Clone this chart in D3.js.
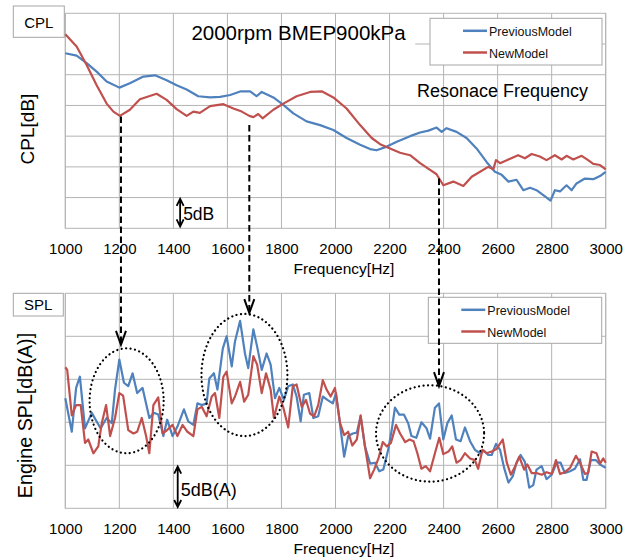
<!DOCTYPE html>
<html>
<head>
<meta charset="utf-8">
<script src="https://cdn.jsdelivr.net/npm/d3@7"></script>
<style>
    body { margin: 0; background: #fff; }
    svg { display: block; font-family: "Liberation Sans", Arial, sans-serif; }
</style>
</head>
<body>
<div id="chart"></div>
<script>
// ---- data ----
const freqTicks = [1000, 1200, 1400, 1600, 1800, 2000, 2200, 2400, 2600, 2800, 3000];
const seriesNames = ["PreviousModel", "NewModel"];
const seriesColors = ["#4F81BD", "#C0504D"];

// CPL [dB], relative (5 dB per gridline)
const cplPrevious = [
    [1000, 28.5], [1042, 28.1], [1079, 26.9], [1116, 25.5], [1153, 23.9], [1200, 22.9], [1239, 23.6],
    [1289, 24.7], [1332, 24.9], [1375, 24.1], [1412, 23.3], [1449, 22.6], [1492, 21.5], [1536, 21.3],
    [1573, 21.4], [1610, 21.7], [1650, 22.3], [1684, 22.3], [1708, 21.5], [1727, 22.2], [1770, 21.3],
    [1807, 20.1], [1844, 18.7], [1893, 17.4], [1943, 16.8], [1992, 16.0], [2041, 14.7], [2091, 13.6],
    [2128, 12.9], [2152, 12.7], [2190, 13.3], [2227, 14.1], [2276, 15.0], [2313, 15.6], [2344, 15.9],
    [2374, 16.4], [2393, 15.7], [2411, 16.3], [2448, 15.7], [2485, 14.7], [2522, 13.0], [2559, 10.8],
    [2590, 9.2], [2615, 8.7], [2640, 7.6], [2670, 7.9], [2695, 6.2], [2720, 6.6], [2744, 6.2],
    [2769, 5.4], [2796, 4.5], [2812, 6.2], [2831, 6.0], [2855, 7.0], [2874, 6.2], [2892, 7.3],
    [2923, 8.1], [2954, 8.0], [2979, 8.5], [3000, 9.2]
];
const cplNew = [
    [1000, 31.6], [1042, 29.6], [1079, 26.6], [1116, 23.3], [1153, 20.3], [1178, 19.0], [1202, 18.3],
    [1239, 19.3], [1276, 21.0], [1338, 21.9], [1375, 20.9], [1412, 19.4], [1449, 18.3], [1474, 19.0],
    [1498, 18.8], [1536, 19.9], [1585, 20.2], [1622, 19.5], [1653, 19.0], [1681, 18.3], [1696, 18.1],
    [1714, 18.6], [1730, 17.9], [1770, 19.3], [1807, 20.3], [1856, 21.5], [1906, 22.2], [1949, 22.3],
    [1992, 21.3], [2041, 19.5], [2091, 16.8], [2134, 14.7], [2165, 13.7], [2202, 13.0], [2239, 12.3],
    [2276, 11.9], [2313, 10.6], [2350, 9.5], [2374, 8.8], [2399, 7.0], [2436, 7.6], [2473, 6.9],
    [2504, 8.4], [2535, 9.2], [2565, 10.0], [2584, 9.6], [2594, 11.1], [2609, 10.6], [2640, 11.2],
    [2676, 11.9], [2701, 11.4], [2726, 12.1], [2756, 11.7], [2781, 11.1], [2812, 11.9], [2837, 11.2],
    [2855, 11.8], [2880, 11.2], [2911, 11.8], [2935, 11.1], [2954, 10.5], [2979, 10.3], [3000, 9.6]
];

// Engine SPL [dB(A)], relative (5 dB per gridline)
const splPrevious = [
    [1000, 12.8], [1024, 8.9], [1040, 14.0], [1054, 15.3], [1073, 9.3], [1098, 11.1], [1116, 10.1],
    [1131, 9.3], [1153, 10.5], [1172, 9.9], [1184, 13.8], [1200, 17.3], [1217, 14.6], [1233, 14.2],
    [1249, 15.7], [1266, 13.4], [1286, 14.0], [1311, 10.5], [1328, 11.1], [1344, 10.9], [1363, 8.4],
    [1377, 10.3], [1397, 8.4], [1415, 9.5], [1439, 11.5], [1455, 10.1], [1474, 9.7], [1489, 12.2],
    [1505, 12.0], [1523, 12.2], [1533, 15.1], [1550, 15.7], [1563, 13.8], [1583, 18.6], [1597, 20.0],
    [1616, 16.5], [1628, 19.4], [1647, 21.8], [1665, 18.0], [1677, 16.3], [1696, 20.8], [1710, 18.8],
    [1727, 16.1], [1745, 18.0], [1760, 16.7], [1776, 12.8], [1792, 14.0], [1809, 12.6], [1825, 14.2],
    [1842, 14.4], [1856, 13.0], [1871, 10.1], [1883, 13.2], [1903, 13.4], [1918, 10.5], [1936, 10.7],
    [1953, 13.0], [1970, 12.6], [1990, 12.2], [2002, 13.4], [2017, 9.7], [2032, 6.0], [2047, 8.4],
    [2064, 8.7], [2079, 8.8], [2093, 10.7], [2109, 7.2], [2128, 5.2], [2146, 5.3], [2162, 4.3],
    [2177, 4.5], [2195, 6.8], [2208, 9.1], [2220, 11.7], [2236, 10.9], [2253, 10.9], [2269, 9.9],
    [2281, 8.4], [2299, 8.2], [2318, 10.0], [2337, 9.3], [2350, 8.1], [2368, 11.7], [2383, 12.2],
    [2399, 8.0], [2414, 9.9], [2430, 10.8], [2446, 8.0], [2463, 7.8], [2479, 9.4], [2498, 7.8],
    [2516, 6.8], [2535, 6.4], [2550, 6.7], [2565, 6.2], [2578, 6.2], [2594, 7.5], [2609, 6.8],
    [2624, 4.7], [2640, 3.0], [2656, 3.7], [2670, 5.3], [2685, 6.2], [2701, 5.4], [2717, 2.4],
    [2732, 2.7], [2744, 4.5], [2763, 4.9], [2781, 3.4], [2800, 3.9], [2818, 5.3], [2833, 5.3],
    [2849, 4.1], [2868, 4.3], [2886, 4.6], [2905, 5.7], [2917, 3.3], [2929, 3.3], [2945, 5.6],
    [2964, 5.6], [2979, 5.1], [3000, 4.7]
];
const splNew = [
    [1000, 16.4], [1007, 16.1], [1024, 10.8], [1040, 12.0], [1057, 12.0], [1073, 7.6], [1085, 8.0],
    [1104, 6.4], [1122, 7.2], [1135, 9.9], [1151, 12.0], [1166, 8.4], [1184, 10.5], [1200, 13.4],
    [1214, 13.1], [1233, 9.1], [1252, 8.7], [1266, 8.9], [1283, 10.5], [1299, 8.4], [1311, 6.4],
    [1326, 12.0], [1344, 12.9], [1360, 8.7], [1377, 9.1], [1397, 9.7], [1415, 8.4], [1434, 9.7],
    [1452, 8.9], [1474, 8.4], [1489, 11.5], [1505, 11.8], [1523, 10.7], [1542, 13.0], [1554, 13.4],
    [1570, 10.5], [1585, 15.3], [1597, 15.9], [1616, 12.2], [1628, 13.0], [1647, 14.7], [1662, 12.4],
    [1677, 13.2], [1696, 17.7], [1710, 16.7], [1727, 13.4], [1743, 15.7], [1760, 13.8], [1772, 10.5],
    [1792, 13.0], [1807, 11.7], [1825, 9.4], [1842, 14.2], [1856, 14.4], [1875, 11.8], [1891, 12.6],
    [1906, 11.0], [1921, 10.7], [1936, 12.0], [1953, 14.9], [1967, 13.8], [1982, 13.0], [1998, 14.0],
    [2017, 9.9], [2032, 8.5], [2047, 8.9], [2062, 7.3], [2079, 8.0], [2093, 10.8], [2109, 7.2],
    [2128, 3.5], [2143, 4.5], [2159, 5.8], [2175, 7.7], [2190, 7.2], [2205, 7.6], [2224, 9.7],
    [2239, 8.7], [2258, 7.7], [2274, 8.0], [2289, 7.8], [2303, 6.4], [2318, 4.6], [2334, 4.9],
    [2350, 4.3], [2368, 6.4], [2384, 8.2], [2399, 6.3], [2418, 6.6], [2432, 7.2], [2448, 5.3],
    [2463, 5.6], [2479, 6.4], [2498, 5.8], [2516, 5.6], [2528, 4.6], [2544, 6.8], [2559, 6.4],
    [2578, 6.6], [2596, 6.9], [2619, 8.0], [2634, 5.3], [2649, 3.9], [2665, 4.9], [2680, 6.0],
    [2698, 4.5], [2710, 5.1], [2726, 4.1], [2744, 4.1], [2763, 3.9], [2781, 4.2], [2800, 4.0],
    [2816, 5.6], [2831, 4.0], [2849, 4.2], [2868, 4.7], [2890, 6.1], [2905, 5.3], [2923, 4.0],
    [2935, 4.1], [2948, 6.6], [2966, 6.4], [2979, 5.2], [2991, 5.8], [3000, 5.3]
];

// resonance arrows: from CPL dip (top) down to SPL peak region (bottom)
const resonances = [
    { freq: 1206, cpl: 18.2, spl: 19.0 },
    { freq: 1681, cpl: 16.8, spl: 22.7 },
    { freq: 2383, cpl: 8.1, spl: 14.2 }
];
// dotted ellipses on SPL chart (centre and radii in data units)
const ellipses = [
    { freq: 1227, spl: 12.5, rf: 137, rv: 6.1 },
    { freq: 1663, spl: 15.5, rf: 159, rv: 7.1 },
    { freq: 2350, spl: 8.7, rf: 200, rv: 5.6 }
];

// ---- layout ----
const width = 633, height = 558;
const gridColor = "#b4b4b4";

const xScale = d3.scaleLinear().domain([1000, 3000]).range([65.3, 605.7]);
const yCpl = d3.scaleLinear().domain([0, 35]).range([228.3, 13.3]);
const ySpl = d3.scaleLinear().domain([0, 25]).range([508.3, 293.3]);

const svg = d3.select("#chart")
    .append("svg")
    .attr("width", width)
    .attr("height", height)
    .attr("viewBox", `0 0 ${width} ${height}`);

const drawPanel = (yScale, gridValues, data, opts) => {
    const g = svg.append("g");
    const [x0, x1] = xScale.range();
    const [yb, yt] = yScale.range();

    // vertical grid
    g.selectAll(".vgrid")
        .data(freqTicks)
        .join("line")
        .attr("x1", d => xScale(d)).attr("x2", d => xScale(d))
        .attr("y1", yb).attr("y2", yt)
        .attr("stroke", gridColor).attr("stroke-width", 1);

    // horizontal grid
    g.selectAll(".hgrid")
        .data(gridValues)
        .join("line")
        .attr("x1", d => xScale(d.from || 1000)).attr("x2", x1)
        .attr("y1", d => yScale(d.v)).attr("y2", d => yScale(d.v))
        .attr("stroke", gridColor).attr("stroke-width", 1);

    g.append("rect")
        .attr("x", x0).attr("y", yt)
        .attr("width", x1 - x0).attr("height", yb - yt)
        .attr("fill", "none").attr("stroke", gridColor);

    // x axis labels
    const axis = g.append("g")
        .attr("transform", `translate(0, ${yb})`)
        .call(d3.axisBottom(xScale).tickValues(freqTicks).tickSize(0).tickPadding(15.4).tickFormat(d3.format("d")));
    axis.select(".domain").remove();
    axis.selectAll("text")
        .style("font-size", "15px")
        .style("font-family", "'Liberation Sans', Arial, sans-serif")
        .attr("fill", "#000");

    svg.append("text")
        .attr("x", 344).attr("y", opts.xLabelY)
        .attr("text-anchor", "middle")
        .style("font-size", "15.5px")
        .text("Frequency[Hz]");

    // lines
    const line = d3.line().x(d => xScale(d[0])).y(d => yScale(d[1]));
    g.selectAll(".series")
        .data(data)
        .join("path")
        .attr("d", d => line(d))
        .attr("fill", "none")
        .attr("stroke", (d, i) => seriesColors[i])
        .attr("stroke-width", 2.2)
        .attr("stroke-linejoin", "round");

    // legend
    const lg = svg.append("g");
    lg.append("rect")
        .attr("x", opts.legend.x).attr("y", opts.legend.y)
        .attr("width", opts.legend.w).attr("height", opts.legend.h)
        .attr("fill", "#fff").attr("stroke", "#a6a6a6");
    seriesNames.forEach((name, i) => {
        const ly = opts.legend.y + 12.5 + i * 21.7;
        lg.append("line")
            .attr("x1", opts.legend.x + 33).attr("x2", opts.legend.x + 57)
            .attr("y1", ly).attr("y2", ly)
            .attr("stroke", seriesColors[i]).attr("stroke-width", 2.5);
        lg.append("text")
            .attr("x", opts.legend.x + 59).attr("y", ly + 5.5)
            .style("font-size", "12.5px")
            .attr("fill", "#111")
            .text(name);
    });

    // panel tag box
    svg.append("rect")
        .attr("x", opts.tag.x).attr("y", opts.tag.y)
        .attr("width", opts.tag.w).attr("height", opts.tag.h)
        .attr("fill", "#fff").attr("stroke", "#a6a6a6");
    svg.append("text")
        .attr("x", opts.tag.x + opts.tag.w / 2).attr("y", opts.tag.ty)
        .attr("text-anchor", "middle")
        .style("font-size", "15px")
        .text(opts.tag.label);

    // y label
    svg.append("text")
        .attr("transform", `translate(${opts.yLabel.x}, ${opts.yLabel.y}) rotate(-90)`)
        .attr("text-anchor", "middle")
        .style("font-size", opts.yLabel.size)
        .text(opts.yLabel.text);

    // scale arrow (5 dB)
    const ax = xScale(opts.scaleBar.freq);
    const ya = yScale(opts.scaleBar.v0), yb2 = yScale(opts.scaleBar.v1);
    svg.append("path")
        .attr("d", `M${ax},${ya} L${ax},${yb2} M${ax - 3.5},${yb2 + 7} L${ax},${yb2} L${ax + 3.5},${yb2 + 7} M${ax - 3.5},${ya - 7} L${ax},${ya} L${ax + 3.5},${ya - 7}`)
        .attr("fill", "none").attr("stroke", "#000").attr("stroke-width", 1.8);
    svg.append("text")
        .attr("x", ax + 3).attr("y", opts.scaleBar.ty)
        .style("font-size", opts.scaleBar.size)
        .text(opts.scaleBar.text);
};

drawPanel(yCpl,
    [{ v: 5 }, { v: 10 }, { v: 15 }, { v: 20 }, { v: 25 }, { v: 30, from: 2295 }],
    [cplPrevious, cplNew],
    {
        xLabelY: 273.5,
        legend: { x: 430, y: 18.3, w: 172, h: 46.7 },
        tag: { x: 13.3, y: 6, w: 51, h: 31.3, ty: 28.3, label: "CPL" },
        yLabel: { x: 34, y: 129, size: "19px", text: "CPL[dB]" },
        scaleBar: { freq: 1425, v0: 0.3, v1: 4.8, ty: 220, size: "17.5px", text: "5dB" }
    });

drawPanel(ySpl,
    [{ v: 5 }, { v: 10 }, { v: 15 }, { v: 20 }],
    [splPrevious, splNew],
    {
        xLabelY: 553.5,
        legend: { x: 428.3, y: 297.3, w: 173.4, h: 46 },
        tag: { x: 13.3, y: 293.3, w: 50, h: 22.7, ty: 309.5, label: "SPL" },
        yLabel: { x: 32.4, y: 415.5, size: "19.7px", text: "Engine SPL[dB(A)]" },
        scaleBar: { freq: 1416, v0: 0.15, v1: 4.85, ty: 496, size: "18px", text: "5dB(A)" }
    });

// titles
svg.append("text")
    .attr("x", 298.5).attr("y", 40)
    .attr("text-anchor", "middle")
    .style("font-size", "20.5px")
    .text("2000rpm BMEP900kPa");

svg.append("text")
    .attr("x", 417).attr("y", 97)
    .style("font-size", "18px")
    .text("Resonace Frequency");

// dotted ellipses
svg.selectAll(".ring")
    .data(ellipses)
    .join("ellipse")
    .attr("cx", d => xScale(d.freq))
    .attr("cy", d => ySpl(d.spl))
    .attr("rx", d => xScale(d.freq + d.rf) - xScale(d.freq))
    .attr("ry", d => ySpl(d.spl - d.rv) - ySpl(d.spl))
    .attr("fill", "none")
    .attr("stroke", "#000")
    .attr("stroke-width", 2.2)
    .attr("stroke-linecap", "round")
    .attr("stroke-dasharray", "0.1 4.4");

// dashed resonance arrows
resonances.forEach(d => {
    const x = xScale(d.freq), y0 = yCpl(d.cpl), y1 = ySpl(d.spl);
    svg.append("line")
        .attr("x1", x).attr("x2", x)
        .attr("y1", y0).attr("y2", y1 - 2)
        .attr("stroke", "#000").attr("stroke-width", 2)
        .attr("stroke-dasharray", "6.5 3.5");
    svg.append("path")
        .attr("d", `M${x - 5},${y1 - 14} L${x},${y1} L${x + 5},${y1 - 14}`)
        .attr("fill", "none").attr("stroke", "#000").attr("stroke-width", 2);
});
</script>
</body>
</html>
